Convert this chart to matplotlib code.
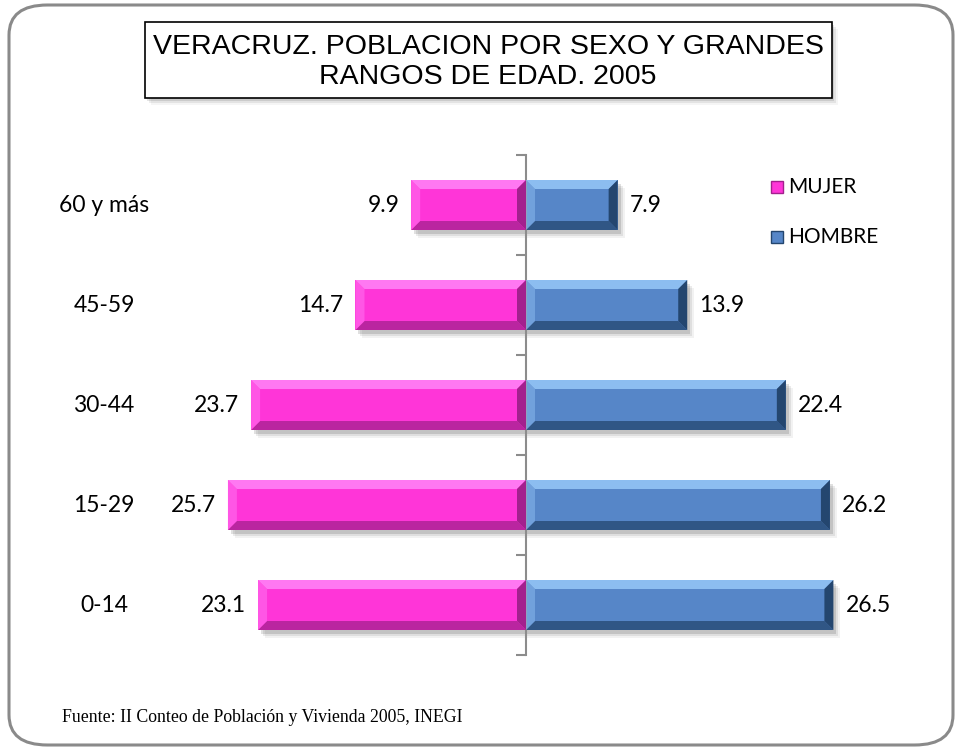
import numpy as np
import matplotlib
matplotlib.use("Agg")
import matplotlib.pyplot as plt
from matplotlib.patches import Polygon, Rectangle, FancyBboxPatch


# Datos: población por sexo y grandes rangos de edad (porcentaje)
grupos = ["0-14", "15-29", "30-44", "45-59", "60 y más"]
mujer = [23.1, 25.7, 23.7, 14.7, 9.9]
hombre = [26.5, 26.2, 22.4, 13.9, 7.9]

titulo = "VERACRUZ. POBLACION POR SEXO Y GRANDES\nRANGOS DE EDAD. 2005"
fuente = "Fuente: II Conteo de Población y Vivienda 2005, INEGI"

# colores (base, claro, oscuro)
ROSA = ("#ff35d8", "#ff78f2", "#a3208e")
AZUL = ("#5686c8", "#8cbdf0", "#24466f")

W, H = 961, 751
PX = 11.6          # pixeles por unidad en x
X0 = 526           # posición del eje en pixeles

fig = plt.figure(figsize=(W / 100, H / 100), dpi=100)


def fx(px):
    return px / W


def fy(py):
    return 1 - py / H


# marco redondeado exterior
marco = FancyBboxPatch((fx(9), fy(745)), fx(944), 740 / H,
                       boxstyle="round,pad=0,rounding_size=0.04",
                       transform=fig.transFigure, fill=False,
                       edgecolor="#8a8a8a", linewidth=2.2)
fig.patches.append(marco)

# caja del título con sombra
for i, a in enumerate([0.10, 0.07, 0.04]):
    fig.patches.append(Rectangle((fx(145 + 2 + 2 * i), fy(98 + 3 + 2 * i)), fx(687), 76 / H,
                                 transform=fig.transFigure, facecolor="black",
                                 alpha=a, edgecolor="none"))
fig.patches.append(Rectangle((fx(145), fy(98)), fx(687), 76 / H,
                             transform=fig.transFigure, facecolor="white",
                             edgecolor="black", linewidth=1.2))
fig.text(fx(488), fy(62), titulo, ha="center", va="center", fontsize=20.5,
         family="Liberation Sans", linespacing=1.2)

# ejes: x=0 en X0 px, categorías entre 155 y 655 px
ax = fig.add_axes([0, fy(655), 1, 500 / H])
ax.set_xlim(-X0 / PX, (W - X0) / PX)
ax.set_ylim(-0.5, len(grupos) - 0.5)
ax.patch.set_alpha(0)
for s in ["top", "right", "bottom"]:
    ax.spines[s].set_visible(False)
ax.spines["left"].set_position(("data", 0))
ax.spines["left"].set_color("#8c8c8c")
ax.spines["left"].set_linewidth(1.5)
ax.set_xticks([])
ax.set_yticks(np.arange(len(grupos) + 1) - 0.5)
ax.set_yticklabels([])
ax.tick_params(axis="y", direction="out", length=7, width=1.5, color="#8c8c8c")

y = np.arange(len(grupos))
alto = 0.5
bx = 9 / PX       # bisel horizontal en unidades de datos
by = 9 / 100.0    # bisel vertical


def barra_bisel(x_ini, x_fin, yc, cols):
    base, claro, oscuro = cols
    x0, x1 = min(x_ini, x_fin), max(x_ini, x_fin)
    y0, y1 = yc - alto / 2, yc + alto / 2
    # sombra
    for i, a in enumerate([0.12, 0.08, 0.05]):
        ax.add_patch(Rectangle((x0 + (3 + 2 * i) / PX, y0 - (4 + 2 * i) / 100),
                               x1 - x0, y1 - y0, facecolor="black", alpha=a,
                               edgecolor="none", zorder=1))
    ax.add_patch(Rectangle((x0, y0), x1 - x0, y1 - y0, facecolor=base,
                           edgecolor="none", zorder=2))
    # biseles
    ax.add_patch(Polygon([(x0, y1), (x1, y1), (x1 - bx, y1 - by), (x0 + bx, y1 - by)],
                         facecolor=claro, edgecolor="none", zorder=3))
    ax.add_patch(Polygon([(x0, y0), (x1, y0), (x1 - bx, y0 + by), (x0 + bx, y0 + by)],
                         facecolor=oscuro, edgecolor="none", alpha=0.75, zorder=3))
    ax.add_patch(Polygon([(x0, y0), (x0, y1), (x0 + bx, y1 - by), (x0 + bx, y0 + by)],
                         facecolor=claro, edgecolor="none", alpha=0.5, zorder=3))
    ax.add_patch(Polygon([(x1, y0), (x1, y1), (x1 - bx, y1 - by), (x1 - bx, y0 + by)],
                         facecolor=oscuro, edgecolor="none", zorder=3))


for i in range(len(grupos)):
    barra_bisel(0, -mujer[i], y[i], ROSA)
    barra_bisel(0, hombre[i], y[i], AZUL)
    ax.text(-mujer[i] - 12 / PX, y[i], f"{mujer[i]:.1f}", ha="right", va="center",
            fontsize=16.5, family="Lato")
    ax.text(hombre[i] + 12 / PX, y[i], f"{hombre[i]:.1f}", ha="left", va="center",
            fontsize=16.5, family="Lato")
    ax.text((104 - X0) / PX, y[i], grupos[i], ha="center", va="center",
            fontsize=16.5, family="Lato")

# leyenda manual
for nombre, cols, py in [("MUJER", ROSA, 187), ("HOMBRE", AZUL, 237)]:
    fig.patches.append(Rectangle((fx(771), fy(py + 6)), fx(12), 12 / H,
                                 transform=fig.transFigure, facecolor=cols[0],
                                 edgecolor=cols[2], linewidth=1))
    fig.text(fx(788), fy(py), nombre, ha="left", va="center", fontsize=15,
             family="Lato")

fig.text(fx(62), fy(718), fuente, ha="left", va="center", fontsize=12.8,
         family="Liberation Serif")

fig.savefig("out.png", dpi=100)
